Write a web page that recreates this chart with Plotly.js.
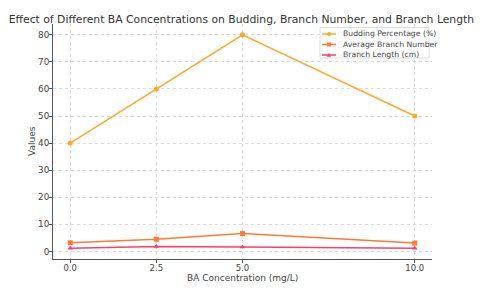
<!DOCTYPE html>
<html><head><meta charset="utf-8">
<script src="https://cdn.plot.ly/plotly-3.0.1.min.js"></script>
<style>html,body{margin:0;padding:0;background:#fff}#chart{width:480px;height:294px}</style>
</head><body><div id="chart"></div>
<script>
const concentrations = [0, 2.5, 5, 10];
const tickLabels = ['0.0', '2.5', '5.0', '10.0'];
const buddingPct = [40, 60, 80, 50];
const avgBranchNumber = [3.2, 4.5, 6.6, 3.1];
const branchLength = [1.2, 1.8, 1.6, 1.2];
const seriesNames = ['Budding Percentage (%)', 'Average Branch Number', 'Branch Length (cm)'];
const seriesColors = ['#FFA726', '#FF7A33', '#FF3D6A'];
const seriesSymbols = ['circle', 'square', 'triangle-up'];
const seriesData = [buddingPct, avgBranchNumber, branchLength];

const traces = seriesData.map((ys, i) => ({
  x: concentrations, y: ys, name: seriesNames[i], mode: 'lines+markers', showlegend: false,
  line: {color: seriesColors[i], width: 1.5},
  marker: {symbol: seriesSymbols[i], size: 5, color: seriesColors[i]}
}));

// custom compact legend (paper coordinates relative to plot area)
const L = 53, R = 432, T = 24, B = 259;
const px = v => (v - L) / (R - L);
const py = v => (B - v) / (B - T);
const shapes = [{type: 'rect', xref: 'paper', yref: 'paper', x0: px(320), x1: px(429), y0: py(58), y1: py(27.5),
  line: {color: '#dddddd', width: 1}, fillcolor: 'rgba(255,255,255,0.9)', layer: 'above'}];
const annotations = [];
const rowY = [34, 44.5, 55];
seriesNames.forEach((n, i) => {
  const y = rowY[i];
  shapes.push({type: 'line', xref: 'paper', yref: 'paper', x0: px(322), x1: px(336), y0: py(y), y1: py(y),
    line: {color: seriesColors[i], width: 1.5}, layer: 'above'});
  const c = seriesColors[i];
  if (i === 0) shapes.push({type: 'circle', xref: 'paper', yref: 'paper', x0: px(327), x1: px(331), y0: py(y + 2), y1: py(y - 2), fillcolor: c, line: {color: c, width: 0}, layer: 'above'});
  if (i === 1) shapes.push({type: 'rect', xref: 'paper', yref: 'paper', x0: px(327), x1: px(331), y0: py(y + 2), y1: py(y - 2), fillcolor: c, line: {color: c, width: 0}, layer: 'above'});
  if (i === 2) shapes.push({type: 'path', xref: 'paper', yref: 'paper',
    path: `M ${px(326.8)} ${py(y + 1.8)} L ${px(331.2)} ${py(y + 1.8)} L ${px(329)} ${py(y - 2.2)} Z`, fillcolor: c, line: {color: c, width: 0}, layer: 'above'});
  annotations.push({xref: 'paper', yref: 'paper', x: px(341), y: py(y), xanchor: 'left', yanchor: 'middle',
    text: n, showarrow: false, font: {family: 'DejaVu Sans', size: 7.7, color: '#444'}});
});
annotations.push({xref: 'paper', yref: 'paper', x: px(242), y: py(277.5), xanchor: 'center', yanchor: 'middle',
  text: 'BA Concentration (mg/L)', showarrow: false, font: {family: 'DejaVu Sans', size: 9, color: '#444'}});
annotations.push({xref: 'paper', yref: 'paper', x: px(32), y: py(141), xanchor: 'center', yanchor: 'middle', textangle: -90,
  text: 'Values', showarrow: false, font: {family: 'DejaVu Sans', size: 9, color: '#444'}});

const layout = {
  width: 480, height: 294,
  margin: {l: 53, r: 48, t: 24, b: 35},
  paper_bgcolor: '#fff', plot_bgcolor: '#fff',
  font: {family: 'DejaVu Sans', size: 9, color: '#444'},
  title: {text: 'Effect of Different BA Concentrations on Budding, Branch Number, and Branch Length',
          font: {family: 'DejaVu Sans', size: 10.8, color: '#333'}, x: 0.503, xanchor: 'center', y: 0.935, yanchor: 'middle'},
  xaxis: {range: [-0.5, 10.5], tickvals: concentrations, ticktext: tickLabels,
          showline: true, linecolor: '#555', linewidth: 1, ticks: 'outside', ticklen: 3, tickcolor: '#555',
          showgrid: true, gridcolor: '#ddd', griddash: 'dot', gridwidth: 1, zeroline: false,
          ticklabelstandoff: -2, tickfont: {size: 8.5, color: '#444'}},
  yaxis: {range: [-2.8, 84], tickvals: [0, 10, 20, 30, 40, 50, 60, 70, 80],
          showline: true, linecolor: '#555', linewidth: 1, ticks: 'outside', ticklen: 3, tickcolor: '#555',
          showgrid: true, gridcolor: '#ddd', griddash: 'dot', gridwidth: 1, zeroline: false,
          ticklabelstandoff: -2, tickfont: {size: 8.8, color: '#444'}},
  shapes: shapes,
  annotations: annotations,
  showlegend: false
};

Plotly.newPlot('chart', traces, layout, {displayModeBar: false, staticPlot: true});
</script></body></html>
